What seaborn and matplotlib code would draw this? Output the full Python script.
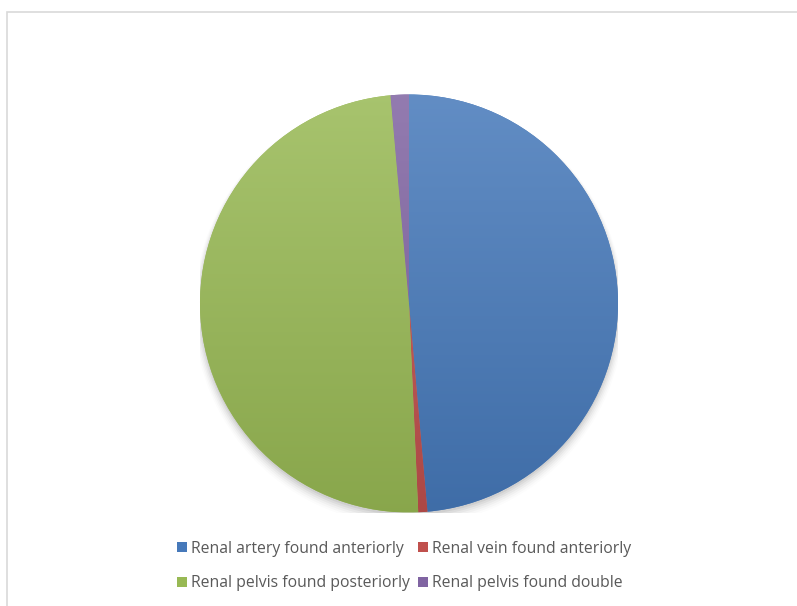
import matplotlib
matplotlib.use("Agg")
import matplotlib.pyplot as plt
import matplotlib.colors as mcolors
from matplotlib.lines import Line2D
from matplotlib.patches import Rectangle
import numpy as np
import seaborn as sns

categories = ["Renal artery found anteriorly", "Renal vein found anteriorly",
              "Renal pelvis found posteriorly", "Renal pelvis found double"]
counts = [69, 1, 70, 2]
colors = ["#4679BA", "#C0504D", "#98B954", "#8064A2"]

sns.set_theme(style="white")
plt.rcParams['font.family'] = ['Open Sans', 'DejaVu Sans']

W, H = 797, 606
fig = plt.figure(figsize=(W / 100, H / 100), dpi=100)
fig.patch.set_facecolor("white")

# outer chart border
fig.patches.append(Rectangle((6.5 / W, -0.1), 1.2, (H - 11.5) / H + 0.1,
                             transform=fig.transFigure, fill=False,
                             edgecolor="#D9D9D9", linewidth=1.2))

cx, cy, r = 409, 303.5, 209
ax = fig.add_axes([(cx - r) / W, (H - cy - r) / H, 2 * r / W, 2 * r / H])
ax.set_axis_off()

# soft shadow
for i, a in enumerate(np.linspace(0.05, 0.01, 6)):
    sh = plt.Circle((0.0, -0.012 - i * 0.004), 1.0 + i * 0.006, color="black",
                    alpha=a, zorder=0, linewidth=0)
    ax.add_patch(sh)

wedges, _ = ax.pie(counts, colors=colors, startangle=90, counterclock=False,
                   radius=1, wedgeprops=dict(linewidth=0))

# vertical gradient fill for each wedge (lighter at top, darker at bottom)
yy = np.linspace(1, 0, 256)[:, None]
for w, c in zip(wedges, colors):
    base = np.array(mcolors.to_rgb(c))
    top = base + (1 - base) * 0.15
    bot = base * 0.9
    grad = (top[None, None, :] * yy[..., None] + bot[None, None, :] * (1 - yy[..., None]))
    grad = np.repeat(grad, 2, axis=1)
    im = ax.imshow(grad, extent=[-1, 1, -1, 1], origin="upper", zorder=2,
                   aspect="auto", interpolation="bilinear")
    im.set_clip_path(w)
    w.set_zorder(1)

ax.set_xlim(-1, 1)
ax.set_ylim(-1, 1)
ax.set_aspect("equal")

# legend, row-wise order
order = [0, 2, 1, 3]
handles = [Line2D([], [], marker="s", linestyle="", markersize=6.5,
                  markerfacecolor=colors[i], markeredgewidth=0) for i in order]
labels = [categories[i] for i in order]
fig.legend(handles, labels, ncol=2, loc="center", bbox_to_anchor=(404 / W, 1 - 566 / H),
           frameon=False, fontsize=11.3, labelcolor="#595959",
           handlelength=0.6, handletextpad=0.3, columnspacing=0.5,
           labelspacing=1.15, borderaxespad=0)

fig.savefig("out.png", dpi=100, facecolor="white")
